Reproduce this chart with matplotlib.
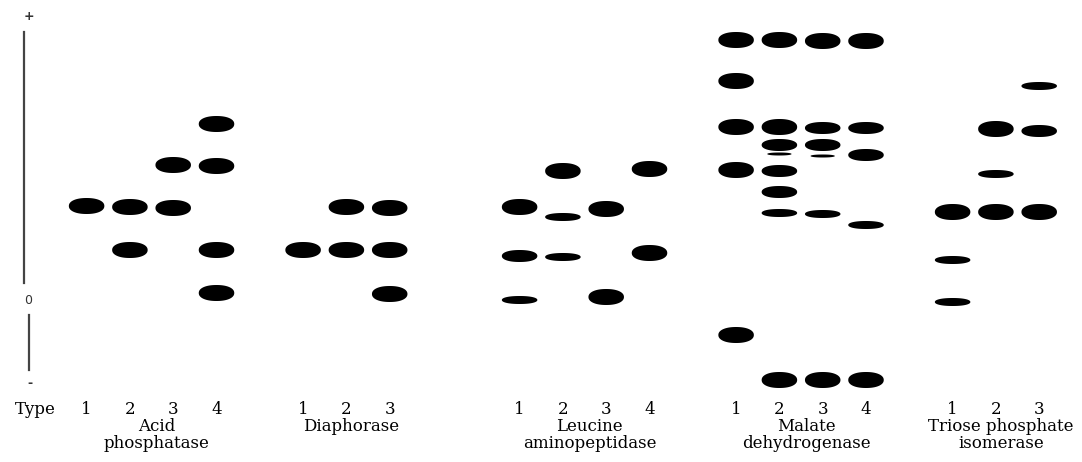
import numpy as np
import matplotlib.pyplot as plt
from matplotlib.patches import Polygon

# lane positions (lane units), band mobility (px above origin), band thickness class
enzymes = ["Acid\nphosphatase", "Diaphorase", "Leucine\naminopeptidase",
           "Malate\ndehydrogenase", "Triose phosphate\nisomerase"]
lanes = [[2, 3, 4, 5], [7, 8, 9], [12, 13, 14, 15], [17, 18, 19, 20], [22, 23, 24]]
lane_labels = [["1", "2", "3", "4"], ["1", "2", "3"], ["1", "2", "3", "4"],
               ["1", "2", "3", "4"], ["1", "2", "3"]]

acid = [
    [(92, "thick")],
    [(91, "thick"), (48, "thick")],
    [(90, "thick"), (133, "thick")],
    [(174, "thick"), (132, "thick"), (48, "thick"), (5, "thick")],
]
diaphorase = [
    [(48, "thick")],
    [(91, "thick"), (48, "thick")],
    [(90, "thick"), (48, "thick"), (4, "thick")],
]
leucine = [
    [(91, "thick"), (42, "medium"), (-2, "thin")],
    [(127, "thick"), (81, "thin"), (41, "thin")],
    [(89, "thick"), (1, "thick")],
    [(129, "thick"), (45, "thick")],
]
malate = [
    [(258, "thick"), (217, "thick"), (171, "thick"), (128, "thick"), (-37, "thick")],
    [(258, "thick"), (171, "thick"), (153, "medium"), (144, "hair"), (127, "medium"),
     (106, "medium"), (85, "thin"), (-82, "thick")],
    [(257, "thick"), (170, "medium"), (153, "medium"), (142, "hair"), (84, "thin"),
     (-82, "thick")],
    [(257, "thick"), (170, "medium"), (143, "medium"), (73, "thin"), (-82, "thick")],
]
triose = [
    [(86, "thick"), (38, "thin"), (-4, "thin")],
    [(169, "thick"), (124, "thin"), (86, "thick")],
    [(212, "thin"), (167, "medium"), (86, "thick")],
]
bands = [acid, diaphorase, leucine, malate, triose]

sizes = {"thick": (0.82, 16), "medium": (0.82, 12), "thin": (0.82, 8), "hair": (0.56, 3)}


def blob(x, y, w, h, p=2.2):
    # superellipse, slightly fuller than a plain ellipse
    t = np.linspace(0, 2 * np.pi, 80)
    c, s = np.cos(t), np.sin(t)
    px = x + w / 2 * np.sign(c) * np.abs(c) ** (2 / p)
    py = y + h / 2 * np.sign(s) * np.abs(s) ** (2 / p)
    return Polygon(np.column_stack([px, py]), closed=True, facecolor="black", edgecolor="none")


fig = plt.figure(figsize=(10.82, 4.62), dpi=100)
ax = fig.add_axes([0, 0, 1, 1])
ax.set_xlim(0, 1082 / 43.3)
ax.set_ylim(298 - 462, 298)
ax.axis("off")

font = dict(family="DejaVu Serif", fontsize=12, color="black")

for name, xs, labs, groups in zip(enzymes, lanes, lane_labels, bands):
    for x, lab, lane_bands in zip(xs, labs, groups):
        for mob, kind in lane_bands:
            w, h = sizes[kind]
            ax.add_patch(blob(x, mob, w, h))
        ax.text(x, -111, lab, ha="center", va="center", **font)
    ax.text(sum(xs) / len(xs) + 0.12, -120, name, ha="center", va="top",
            multialignment="center", linespacing=1.0, **font)

ax.text(0.81, -111, "Type", ha="center", va="center", **font)

# polarity scale on the left
sym = dict(ha="center", va="center", family="DejaVu Sans", fontsize=9, color="#333333")
ax.text(0.67, 281, "+", fontweight="bold", **sym)
ax.plot([0.555, 0.555], [266, 15], color="#444444", lw=1.6)
ax.text(0.65, -2, "0", **sym)
ax.plot([0.67, 0.67], [-17, -72], color="#444444", lw=1.6)
ax.text(0.70, -85, "-", fontweight="bold", **sym)

fig.savefig("out.png", dpi=100)
